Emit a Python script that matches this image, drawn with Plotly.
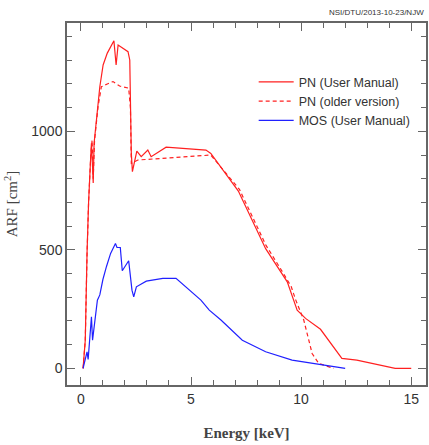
import plotly.graph_objects as go

# PN (User Manual)
pn_x = [0.1, 0.2, 0.28, 0.35, 0.45, 0.48, 0.53, 0.56, 0.6, 0.71, 0.86, 1.01, 1.2, 1.5, 1.6, 1.69, 1.9,
        2.14, 2.22, 2.29, 2.34, 2.54, 2.74, 3.04, 3.19, 3.87, 5.68, 5.9, 7.15, 8.39, 9.37, 9.82, 9.97,
        10.2, 10.88, 11.85, 12.53, 14.27, 15.0]
pn_y = [0, 120, 487, 700, 900, 950, 850, 782, 950, 1048, 1188, 1280, 1330, 1382, 1280, 1364, 1350,
        1336, 1301, 908, 830, 917, 893, 921, 893, 933, 921, 907, 748, 505, 365, 246, 232,
        211, 165, 42, 35, 0, 0]

# PN (older version)
pno_x = [0.1, 0.2, 0.28, 0.35, 0.45, 0.51, 0.56, 0.62, 0.78, 0.93, 1.2, 1.46, 1.76, 2.17, 2.25, 2.29,
         2.59, 5.75, 5.9, 7.2, 8.4, 9.2, 9.55, 9.75, 10.12, 10.5, 10.8, 11.48]
pno_y = [0, 120, 480, 700, 900, 963, 800, 960, 1104, 1188, 1200, 1210, 1191, 1182, 1100, 865,
         879, 900, 900, 755, 520, 400, 345, 290, 204, 63, 21, 0]

# MOS (User Manual)
mos_x = [0.1, 0.28, 0.33, 0.48, 0.53, 0.75, 0.86, 1.0, 1.16, 1.35, 1.57, 1.64, 1.79, 1.88, 2.17, 2.32,
         2.4, 2.52, 2.97, 3.72, 4.32, 4.92, 5.45, 5.83, 6.36, 7.33, 8.39, 9.59, 10.8, 12.0]
mos_y = [0, 70, 38, 218, 119, 288, 310, 375, 429, 485, 527, 510, 510, 412, 454, 330,
         302, 344, 368, 380, 380, 333, 288, 246, 204, 119, 70, 35, 17, 0]

fig = go.Figure()
fig.add_trace(go.Scatter(x=pn_x, y=pn_y, mode="lines", name="PN (User Manual)",
                         line=dict(color="#ff2020", width=1.2)))
fig.add_trace(go.Scatter(x=pno_x, y=pno_y, mode="lines", name="PN (older version)",
                         line=dict(color="#ff2020", width=1.2, dash="4px,3px")))
fig.add_trace(go.Scatter(x=mos_x, y=mos_y, mode="lines", name="MOS (User Manual)",
                         line=dict(color="#2020ff", width=1.2)))

axis_common = dict(showgrid=False, zeroline=False, showline=True, linecolor="#666", linewidth=1.5,
                   mirror="allticks", ticks="inside", tickcolor="#666", tickwidth=1.2, ticklen=8,
                   tickfont=dict(family="Liberation Sans, Arial", size=14, color="#333"))

fig.update_xaxes(range=[-0.63, 15.67], tickvals=[0, 5, 10, 15],
                 minor=dict(dtick=1, ticks="inside", ticklen=5, tickcolor="#666", tickwidth=1.2),
                 title=dict(text="<b>Energy [keV]</b>", font=dict(family="Liberation Serif, serif", size=15,
                                                                  color="#444"), standoff=22),
                 **axis_common)
fig.update_yaxes(range=[-70, 1457], tickvals=[0, 500, 1000],
                 minor=dict(dtick=100, ticks="inside", ticklen=5, tickcolor="#666", tickwidth=1.2),
                 title=dict(text="ARF [cm<sup>2</sup>]", font=dict(family="Liberation Serif, serif",
                                                                    size=15, color="#444"), standoff=10),
                 **axis_common)

fig.update_layout(
    width=429, height=445,
    margin=dict(l=67, r=1, t=23, b=60),
    plot_bgcolor="white", paper_bgcolor="white",
    showlegend=True,
    legend=dict(x=0.52, y=0.878, xanchor="left", yanchor="top", bgcolor="rgba(0,0,0,0)",
                font=dict(family="Liberation Sans, Arial", size=12.5, color="#333"),
                itemwidth=35, tracegroupgap=0),
    annotations=[dict(text="NSI/DTU/2013-10-23/NJW", xref="paper", yref="paper", x=1.0, y=1.0,
                      xanchor="right", yanchor="bottom", yshift=4, showarrow=False,
                      font=dict(family="Liberation Sans, Arial", size=8, color="#333"))],
)

fig.write_html("out.html")
